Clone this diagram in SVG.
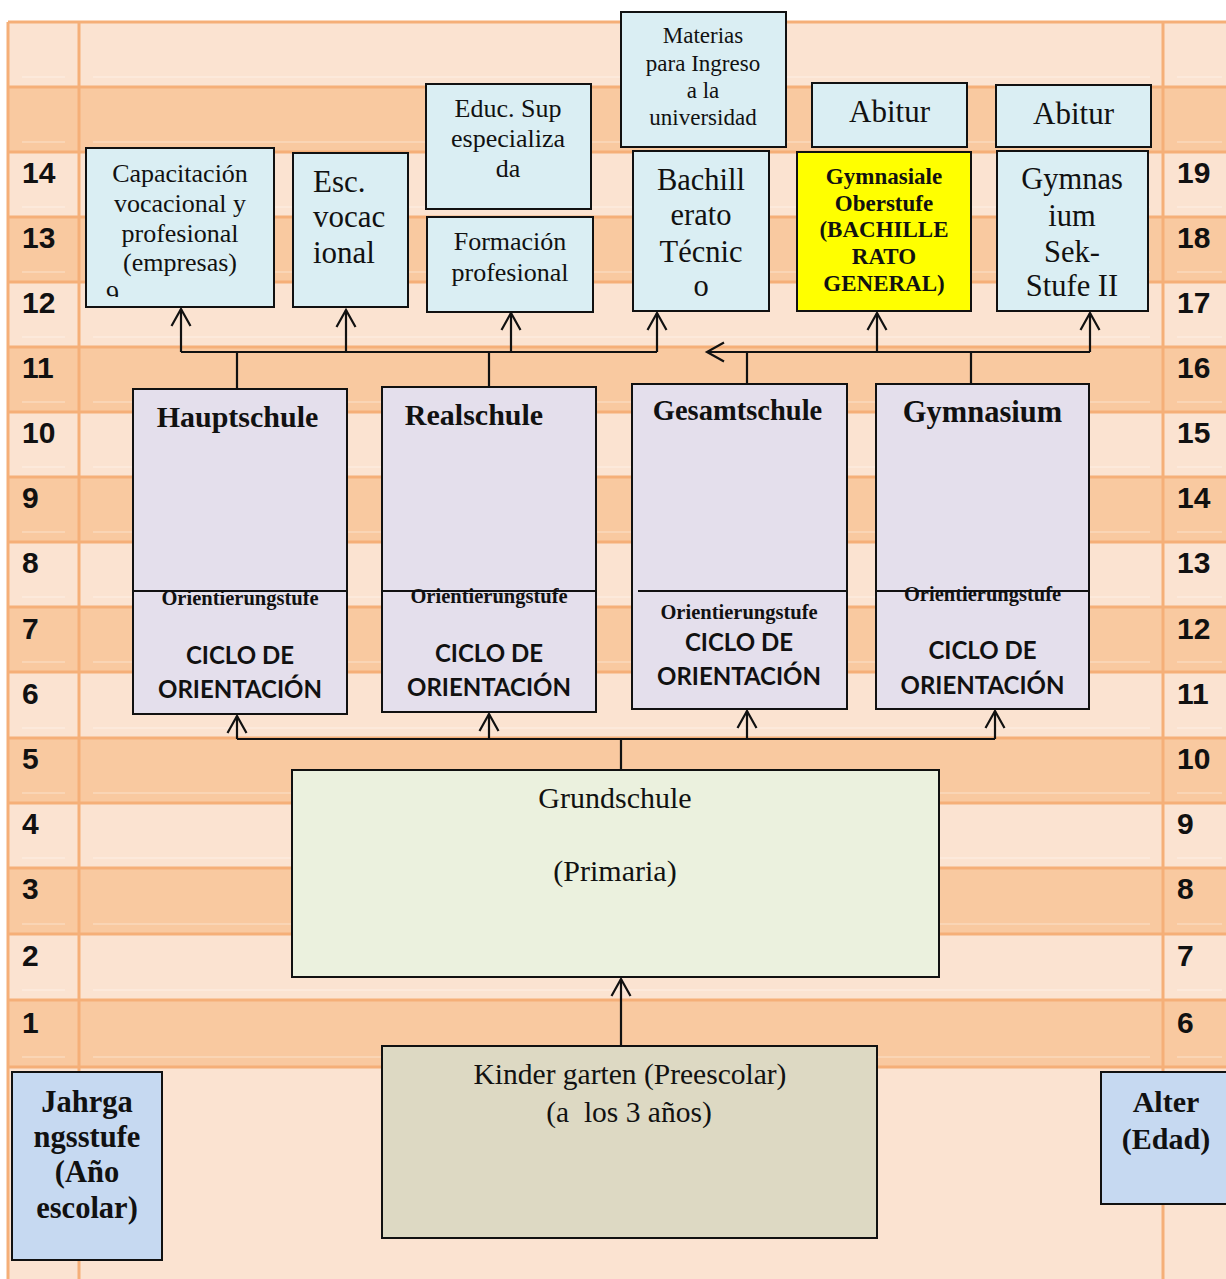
<svg xmlns="http://www.w3.org/2000/svg" width="1226" height="1279" viewBox="0 0 1226 1279">
  <style>
    .grid { stroke: #F5AF78; stroke-width: 3; fill: none; }
    .sheen { stroke: #FFFFFF; stroke-opacity: 0.45; stroke-width: 1; }
    .num { font-family: "Liberation Sans", Arial, sans-serif; font-weight: bold; font-size: 30px; fill: #111; }
    .box { stroke: #111; stroke-width: 2; }
    .blue { fill: #DAEEF3; }
    .lav { fill: #E4DFEC; }
    .serif { font-family: "Liberation Serif", "Times New Roman", serif; fill: #111; }
    .b { font-weight: bold; }
    .sans { font-family: Lato, "Liberation Sans", sans-serif; font-weight: bold; font-size: 24px; fill: #111; }
    .mid { text-anchor: middle; }
    .wire { stroke: #111; stroke-width: 2.2; fill: none; }
    .arr { marker-end: url(#head); }
  </style>
  <defs>
    <marker id="head" viewBox="-20 -12 24 24" refX="0" refY="0" markerWidth="24" markerHeight="24" markerUnits="userSpaceOnUse" orient="auto">
      <path d="M-17,-9.5 L0,0 L-17,9.5" fill="none" stroke="#111" stroke-width="2.2"/>
    </marker>
    <clipPath id="capClip"><rect x="86" y="148" width="188" height="149"/></clipPath>
  </defs>

  <!-- table background: alternating school-year rows -->
  <g id="table">
    <rect x="8" y="22" width="1218" height="1257" fill="#FBE3D1"/>
    <g fill="#F9C9A0">
      <rect x="8" y="87" width="1218" height="65"/>
      <rect x="8" y="217" width="1218" height="65"/>
      <rect x="8" y="347" width="1218" height="65"/>
      <rect x="8" y="477" width="1218" height="65"/>
      <rect x="8" y="607" width="1218" height="65"/>
      <rect x="8" y="738" width="1218" height="65"/>
      <rect x="8" y="868" width="1218" height="66"/>
      <rect x="8" y="1000" width="1218" height="67"/>
    </g>
    <g class="sheen">
      <path d="M22 77H65M93 77H1150M1177 77H1222"/>
      <path d="M22 142H65M93 142H1150M1177 142H1222"/>
      <path d="M22 207H65M93 207H1150M1177 207H1222"/>
      <path d="M22 272H65M93 272H1150M1177 272H1222"/>
      <path d="M22 337H65M93 337H1150M1177 337H1222"/>
      <path d="M22 402H65M93 402H1150M1177 402H1222"/>
      <path d="M22 467H65M93 467H1150M1177 467H1222"/>
      <path d="M22 532H65M93 532H1150M1177 532H1222"/>
      <path d="M22 597H65M93 597H1150M1177 597H1222"/>
      <path d="M22 662H65M93 662H1150M1177 662H1222"/>
      <path d="M22 728H65M93 728H1150M1177 728H1222"/>
      <path d="M22 793H65M93 793H1150M1177 793H1222"/>
      <path d="M22 858H65M93 858H1150M1177 858H1222"/>
      <path d="M22 924H65M93 924H1150M1177 924H1222"/>
      <path d="M22 990H65M93 990H1150M1177 990H1222"/>
      <path d="M22 1057H65M93 1057H1150M1177 1057H1222"/>
    </g>
    <g class="grid">
      <path d="M8 22H1226M8 87H1226M8 152H1226M8 217H1226M8 282H1226M8 347H1226M8 412H1226M8 477H1226M8 542H1226"/>
      <path d="M8 607H1226M8 672H1226M8 738H1226M8 803H1226M8 868H1226M8 934H1226M8 1000H1226M8 1067H1226"/>
      <path d="M8 22V1279M79 22V1279M1163 22V1279"/>
    </g>
    <!-- school year (left) and age (right) -->
    <g class="num">
      <text x="22" y="183">14</text><text x="1177" y="183">19</text>
      <text x="22" y="248">13</text><text x="1177" y="248">18</text>
      <text x="22" y="313">12</text><text x="1177" y="313">17</text>
      <text x="22" y="378">11</text><text x="1177" y="378">16</text>
      <text x="22" y="443">10</text><text x="1177" y="443">15</text>
      <text x="22" y="508">9</text><text x="1177" y="508">14</text>
      <text x="22" y="573">8</text><text x="1177" y="573">13</text>
      <text x="22" y="639">7</text><text x="1177" y="639">12</text>
      <text x="22" y="704">6</text><text x="1177" y="704">11</text>
      <text x="22" y="769">5</text><text x="1177" y="769">10</text>
      <text x="22" y="834">4</text><text x="1177" y="834">9</text>
      <text x="22" y="899">3</text><text x="1177" y="899">8</text>
      <text x="22" y="966">2</text><text x="1177" y="966">7</text>
      <text x="22" y="1033">1</text><text x="1177" y="1033">6</text>
    </g>
  </g>

  <!-- connectors -->
  <g id="connectors">
    <!-- Hauptschule / Realschule to vocational tracks -->
    <path class="wire" d="M237 389V352M489 387V352M181 352H657"/>
    <path class="wire arr" d="M181 352V309"/>
    <path class="wire arr" d="M346 352V310"/>
    <path class="wire arr" d="M511 352V313"/>
    <path class="wire arr" d="M657 352V313"/>
    <!-- Gesamtschule / Gymnasium to upper secondary -->
    <path class="wire" d="M747 384V352M971 384V352"/>
    <path class="wire arr" d="M1090 352H707"/>
    <path class="wire arr" d="M877 352V313"/>
    <path class="wire arr" d="M1090 352V313"/>
    <!-- Grundschule to the four secondary schools -->
    <path class="wire" d="M621 770V739M237 739H995"/>
    <path class="wire arr" d="M237 739V716"/>
    <path class="wire arr" d="M489 739V714"/>
    <path class="wire arr" d="M747 739V711"/>
    <path class="wire arr" d="M995 739V711"/>
    <!-- Kindergarten to Grundschule -->
    <path class="wire arr" d="M621 1046V979"/>
  </g>

  <g id="capacitacion">
    <rect class="box blue" x="86" y="148" width="188" height="159"/>
    <g class="serif mid" font-size="26">
      <text x="180" y="182">Capacitación</text>
      <text x="180" y="212">vocacional y</text>
      <text x="180" y="242">profesional</text>
      <text x="180" y="271">(empresas)</text>
    </g>
    <text class="serif" x="106" y="303" font-size="26" clip-path="url(#capClip)">9</text>
  </g>

  <g id="esc-vocacional">
    <rect class="box blue" x="293" y="153" width="115" height="154"/>
    <g class="serif" font-size="31">
      <text x="313" y="192">Esc.</text>
      <text x="313" y="227">vocac</text>
      <text x="313" y="263">ional</text>
    </g>
  </g>

  <g id="educ-sup">
    <rect class="box blue" x="426" y="84" width="165" height="125"/>
    <g class="serif mid" font-size="26">
      <text x="508" y="117">Educ. Sup</text>
      <text x="508" y="147">especializa</text>
      <text x="508" y="177">da</text>
    </g>
  </g>

  <g id="formacion">
    <rect class="box blue" x="427" y="217" width="166" height="95"/>
    <g class="serif mid" font-size="26">
      <text x="510" y="250">Formación</text>
      <text x="510" y="281">profesional</text>
    </g>
  </g>

  <g id="materias">
    <rect class="box blue" x="621" y="12" width="165" height="135"/>
    <g class="serif mid" font-size="23">
      <text x="703" y="43">Materias</text>
      <text x="703" y="71">para Ingreso</text>
      <text x="703" y="98">a la</text>
      <text x="703" y="125">universidad</text>
    </g>
  </g>

  <g id="bachillerato-tecnico">
    <rect class="box blue" x="633" y="151" width="136" height="160"/>
    <g class="serif mid" font-size="30.5">
      <text x="701" y="190">Bachill</text>
      <text x="701" y="225">erato</text>
      <text x="701" y="262">Técnic</text>
      <text x="701" y="296">o</text>
    </g>
  </g>

  <g id="abitur-1">
    <rect class="box blue" x="812" y="83" width="155" height="64"/>
    <text class="serif mid" x="889.5" y="122" font-size="31">Abitur</text>
  </g>

  <g id="abitur-2">
    <rect class="box blue" x="996" y="85" width="155" height="62"/>
    <text class="serif mid" x="1073.5" y="124" font-size="31">Abitur</text>
  </g>

  <g id="gymnasiale-oberstufe">
    <rect class="box" x="797" y="152" width="174" height="159" fill="#FFFF00"/>
    <g class="serif b mid" font-size="23">
      <text x="884" y="184">Gymnasiale</text>
      <text x="884" y="211">Oberstufe</text>
      <text x="884" y="237">(BACHILLE</text>
      <text x="884" y="264">RATO</text>
      <text x="884" y="291">GENERAL)</text>
    </g>
  </g>

  <g id="gymnasium-sek-ii">
    <rect class="box blue" x="997" y="151" width="151" height="160"/>
    <g class="serif mid" font-size="30.5">
      <text x="1072" y="189">Gymnas</text>
      <text x="1072" y="226">ium</text>
      <text x="1072" y="262">Sek-</text>
      <text x="1072" y="296">Stufe II</text>
    </g>
  </g>

  <g id="hauptschule">
    <rect class="box lav" x="133" y="389" width="214" height="325"/>
    <path class="wire" d="M133 591H347" stroke-width="2"/>
    <text class="serif b mid" x="237.5" y="427" font-size="30">Hauptschule</text>
    <text class="serif b mid" x="240" y="605" font-size="20.5">Orientierungstufe</text>
    <text class="sans mid" x="240" y="664">CICLO DE</text>
    <text class="sans mid" x="240" y="698">ORIENTACIÓN</text>
  </g>

  <g id="realschule">
    <rect class="box lav" x="382" y="387" width="214" height="325"/>
    <path class="wire" d="M382 591H596" stroke-width="2"/>
    <text class="serif b mid" x="474" y="425" font-size="30">Realschule</text>
    <text class="serif b mid" x="489" y="603" font-size="20.5">Orientierungstufe</text>
    <text class="sans mid" x="489" y="662">CICLO DE</text>
    <text class="sans mid" x="489" y="696">ORIENTACIÓN</text>
  </g>

  <g id="gesamtschule">
    <rect class="box lav" x="632" y="384" width="215" height="325"/>
    <path class="wire" d="M638 591H847" stroke-width="2"/>
    <text class="serif b mid" x="737.5" y="420" font-size="28.5">Gesamtschule</text>
    <text class="serif b mid" x="739" y="619" font-size="20.5">Orientierungstufe</text>
    <text class="sans mid" x="739" y="651">CICLO DE</text>
    <text class="sans mid" x="739" y="685">ORIENTACIÓN</text>
  </g>

  <g id="gymnasium">
    <rect class="box lav" x="876" y="384" width="213" height="325"/>
    <path class="wire" d="M876 591H1089" stroke-width="2"/>
    <text class="serif b mid" x="982.5" y="422" font-size="30.5">Gymnasium</text>
    <text class="serif b mid" x="982.5" y="601" font-size="20.5">Orientierungstufe</text>
    <text class="sans mid" x="982.5" y="659">CICLO DE</text>
    <text class="sans mid" x="982.5" y="694">ORIENTACIÓN</text>
  </g>

  <g id="grundschule">
    <rect class="box" x="292" y="770" width="647" height="207" fill="#EBF1DE"/>
    <text class="serif mid" x="615" y="808" font-size="30">Grundschule</text>
    <text class="serif mid" x="615" y="881" font-size="30">(Primaria)</text>
  </g>

  <g id="kindergarten">
    <rect class="box" x="382" y="1046" width="495" height="192" fill="#DDD9C3"/>
    <text class="serif mid" x="630" y="1084" font-size="29.5">Kinder garten (Preescolar)</text>
    <text class="serif mid" x="629" y="1122" font-size="29.5" xml:space="preserve">(a  los 3 años)</text>
  </g>

  <g id="jahrgangsstufe">
    <rect class="box" x="12" y="1072" width="150" height="188" fill="#C6D9F1"/>
    <g class="serif b mid" font-size="30.5">
      <text x="87" y="1112">Jahrga</text>
      <text x="87" y="1147">ngsstufe</text>
      <text x="87" y="1182">(Año</text>
      <text x="87" y="1218">escolar)</text>
    </g>
  </g>

  <g id="alter">
    <rect class="box" x="1101" y="1072" width="135" height="132" fill="#C6D9F1"/>
    <g class="serif b mid" font-size="30">
      <text x="1166" y="1112">Alter</text>
      <text x="1166" y="1149">(Edad)</text>
    </g>
  </g>
</svg>
